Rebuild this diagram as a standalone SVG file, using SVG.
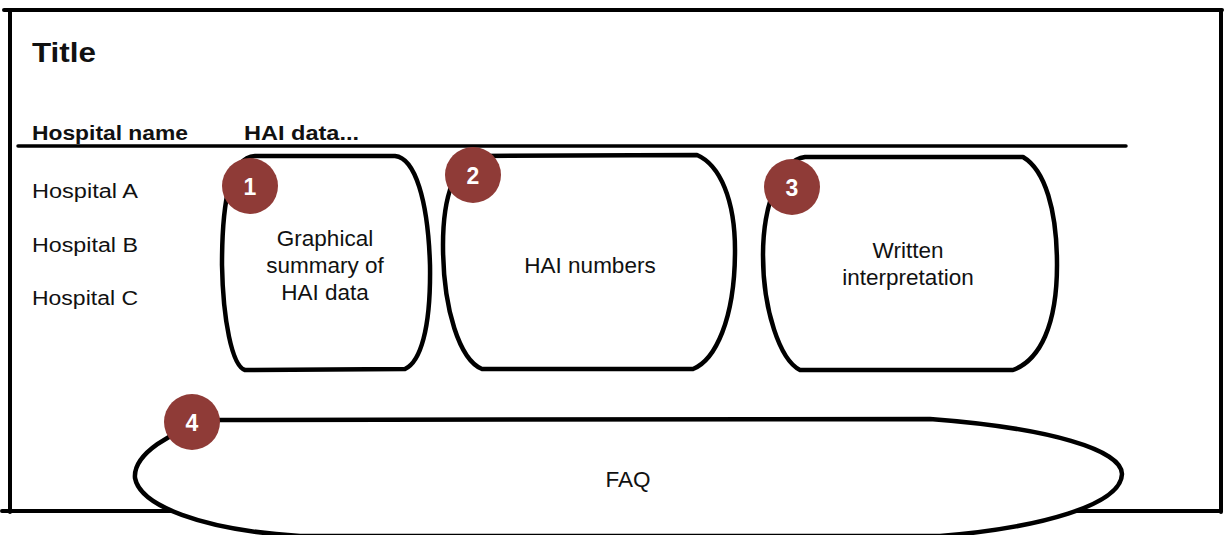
<svg xmlns="http://www.w3.org/2000/svg" width="1225" height="535" viewBox="0 0 1225 535">
<style>
.ln{stroke:#000;stroke-width:4;fill:none;stroke-linecap:round}
.box{stroke:#000;stroke-width:4.5;fill:#fff;stroke-linejoin:round}
.hand{font-family:"Liberation Sans",Arial,sans-serif;fill:#111}
.lbl{font-family:"Liberation Sans",Arial,sans-serif;font-size:22.5px;fill:#111;text-anchor:middle}
.badge{fill:#8f3b37}
.num{font-family:"Liberation Sans",Arial,sans-serif;font-size:23px;font-weight:bold;fill:#fff;text-anchor:middle}
</style>
<rect width="1225" height="535" fill="#fff"/>
<g id="frame">
<path class="ln" d="M4 10 L1222 10 M10 10 L10 512 M1221 10 L1221 512 M2 511 L1221 511"/>
<path class="ln" d="M18 146 L1126 146" style="stroke-width:3.5"/>
</g>
<g id="header">
<text class="hand" x="32" y="62" font-size="28" font-weight="bold" textLength="64" lengthAdjust="spacingAndGlyphs">Title</text>
<text class="hand" x="32" y="140" font-size="20" font-weight="bold" textLength="156" lengthAdjust="spacingAndGlyphs">Hospital name</text>
<text class="hand" x="244" y="140" font-size="20" font-weight="bold" textLength="115" lengthAdjust="spacingAndGlyphs">HAI data...</text>
<text class="hand" x="32" y="198" font-size="20" textLength="106" lengthAdjust="spacingAndGlyphs">Hospital A</text>
<text class="hand" x="32" y="252" font-size="20" textLength="106" lengthAdjust="spacingAndGlyphs">Hospital B</text>
<text class="hand" x="32" y="305" font-size="20" textLength="106" lengthAdjust="spacingAndGlyphs">Hospital C</text>
</g>
<g id="node1">
<path class="box" d="M255 156 L395 156 C415 158 428 200 430 265 C431 330 420 362 405 369 L245 370 C232 366 223 320 222 265 C222 200 230 158 255 156 Z"/>
<text class="lbl" x="325" y="246">Graphical</text>
<text class="lbl" x="325" y="273">summary of</text>
<text class="lbl" x="325" y="300">HAI data</text>
<circle class="badge" cx="250" cy="186" r="28"/>
<text class="num" x="250" y="195">1</text>
</g>
<g id="node2">
<path class="box" d="M480 156 L697 155 C720 165 735 200 735 250 C735 320 715 360 693 369 L482 369 C460 360 443 310 443 245 C443 195 455 162 480 156 Z"/>
<text class="lbl" x="590" y="273">HAI numbers</text>
<circle class="badge" cx="473" cy="175" r="28"/>
<text class="num" x="473" y="184">2</text>
</g>
<g id="node3">
<path class="box" d="M805 157 L1023 157 C1045 170 1057 210 1057 265 C1057 325 1040 360 1013 370 L800 370 C780 360 763 310 763 255 C763 205 780 160 805 157 Z"/>
<text class="lbl" x="908" y="258">Written</text>
<text class="lbl" x="908" y="285">interpretation</text>
<circle class="badge" cx="792" cy="187" r="28"/>
<text class="num" x="792" y="196">3</text>
</g>
<g id="node4">
<path class="box" d="M215 420 L930 419 C1050 428 1122 450 1122 474 C1121 505 1040 528 940 536 L300 536 C200 530 140 505 135 478 C133 455 170 430 215 420 Z"/>
<text class="lbl" x="628" y="487">FAQ</text>
<circle class="badge" cx="192" cy="422" r="28"/>
<text class="num" x="192" y="431">4</text>
</g>
<g id="connectors"></g>
</svg>
